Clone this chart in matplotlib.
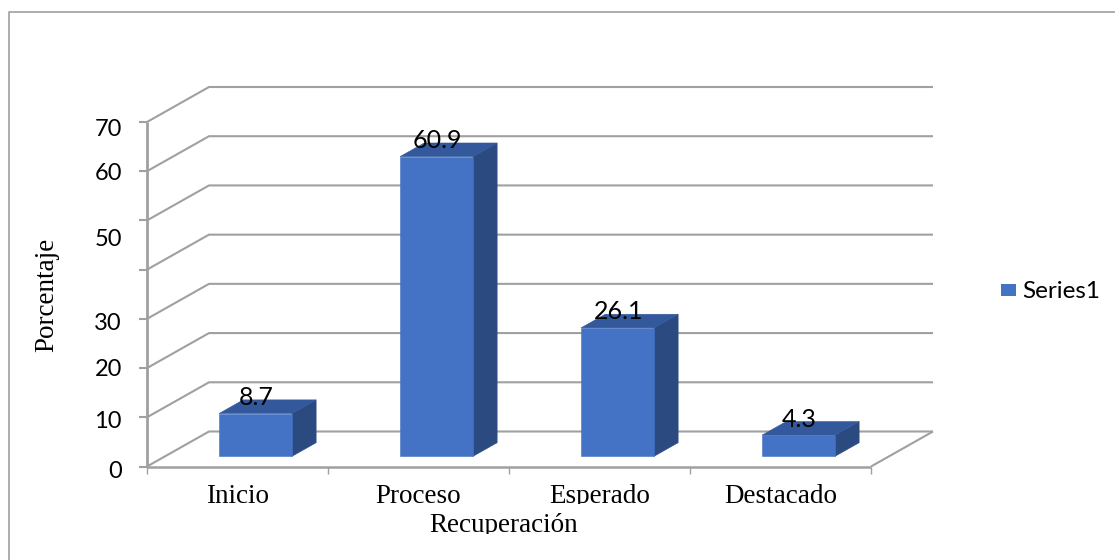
import matplotlib
matplotlib.use("Agg")
import matplotlib.pyplot as plt
from matplotlib.lines import Line2D
from matplotlib.patches import Polygon, Rectangle

categories = ["Inicio", "Proceso", "Esperado", "Destacado"]
values = [8.7, 60.9, 26.1, 4.3]
value_labels = ["8.7", "60.9", "26.1", "4.3"]
y_ticks = [0, 10, 20, 30, 40, 50, 60, 70]
y_tick_labels = {0: "0", 10: "10", 20: "20", 30: "30", 50: "50", 60: "60", 70: "70"}
series_name = "Series1"

W, H = 1115, 560
GRID = "#a0a0a0"
FRONT, SIDE, TOP = "#4472c4", "#2b4a80", "#33599c"
SERIF = "Liberation Serif"
SANS = "Lato"

fig = plt.figure(figsize=(W / 100, H / 100), dpi=100)

# Chart frame: left and top edges only, the others run off the canvas
fig.add_artist(Line2D([8.5 / W, 8.5 / W, 1], [0, 1 - 12 / H, 1 - 12 / H], color="#a0a0a0", lw=1.2,
                      transform=fig.transFigure))

# Axes span the front plane of the 3D box; depth is a shear applied in data units
L, R, T, B = 147, 871, 122, 466.5
ax = fig.add_axes([L / W, 1 - B / H, (R - L) / W, (B - T) / H])
ax.set_xlim(0, 4)
ax.set_ylim(0, 70)
ax.axis("off")

DX = 62 / ((R - L) / 4)
DY = 35 / ((B - T) / 70)


def sheared(x, y, d):
    return (x + DX * d, y + DY * d)


line_kw = dict(color=GRID, lw=1.5, clip_on=False, solid_capstyle="butt", zorder=1)
for v in y_ticks:
    x0, y0 = sheared(0, v, 0)
    x1, y1 = sheared(0, v, 1)
    x2, y2 = sheared(4, v, 1)
    ax.plot([x0, x1, x2], [y0, y1, y2], **line_kw)
    ax.plot([-8 / 181, 0], [v, v], **line_kw)

# Floor edges and left axis
ax.plot([0, 4], [0, 0], **{**line_kw, "lw": 1.8})
ax.plot([4, 4 + DX], [0, DY], **line_kw)
ax.plot([0, 0], [0, 70], **{**line_kw, "lw": 2.0})
for i in range(5):
    ax.plot([i, i], [0, -7 / 4.914], **{**line_kw, "lw": 1.0})

# Bars as three visible faces
D0, D1, BAR_W = 0.29, 0.68, 0.403
for i, v in enumerate(values):
    x0 = i + 0.5 - BAR_W / 2
    x1 = i + 0.5 + BAR_W / 2
    front = [sheared(x0, 0, D0), sheared(x1, 0, D0), sheared(x1, v, D0), sheared(x0, v, D0)]
    side = [sheared(x1, 0, D0), sheared(x1, 0, D1), sheared(x1, v, D1), sheared(x1, v, D0)]
    top = [sheared(x0, v, D0), sheared(x1, v, D0), sheared(x1, v, D1), sheared(x0, v, D1)]
    for pts, col in ((side, SIDE), (top, TOP), (front, FRONT)):
        ax.add_patch(Polygon(pts, closed=True, fc=col, ec=col, lw=0.4, zorder=3, clip_on=False))
    # Label centred over the front face, baseline just inside the top face
    cx = sheared(i + 0.5, v, D0)[0]
    cy = sheared(i + 0.5, v, D1)[1]
    ax.annotate(value_labels[i], (cx, cy), xytext=(0.7, -3.6), textcoords="offset points",
                ha="center", va="baseline", fontsize=18, family=SANS, color="black", zorder=4,
                annotation_clip=False)

# Value axis labels sit slightly off their ticks
label_px = {70: 129, 60: 174, 50: 239, 30: 324, 20: 370, 10: 422, 0: 472}
for v, text in y_tick_labels.items():
    fig.text(122 / W, 1 - label_px[v] / H, text, ha="right", va="center",
             fontsize=17, family=SANS, color="black")

# Category labels and axis titles, cut off below the baseline
for i, name in enumerate(categories):
    t = ax.annotate(name, (i + 0.5, 0), xytext=(0, -26.3), textcoords="offset points",
                    ha="center", va="baseline", fontsize=19.5, family=SERIF, color="black",
                    annotation_clip=False)
    t.set_clip_path(Rectangle((0, H - 504), W, 60, transform=None))
title = fig.text(504 / W, 1 - 532 / H, "Recuperación", ha="center", va="baseline", fontsize=19.5, family=SERIF)
title.set_clip_path(Rectangle((0, H - 534), W, 30, transform=None))
fig.text(47 / W, 1 - 295 / H, "Porcentaje", rotation=90, ha="center", va="center", fontsize=19.5, family=SERIF)

# Legend
fig.add_artist(Rectangle((1001 / W, 1 - 296 / H), 15 / W, 12 / H, fc=FRONT, ec="none", transform=fig.transFigure))
fig.text(1022 / W, 1 - 292 / H, series_name, ha="left", va="center", fontsize=17.5, family=SANS)

fig.savefig("out.png", dpi=100)
